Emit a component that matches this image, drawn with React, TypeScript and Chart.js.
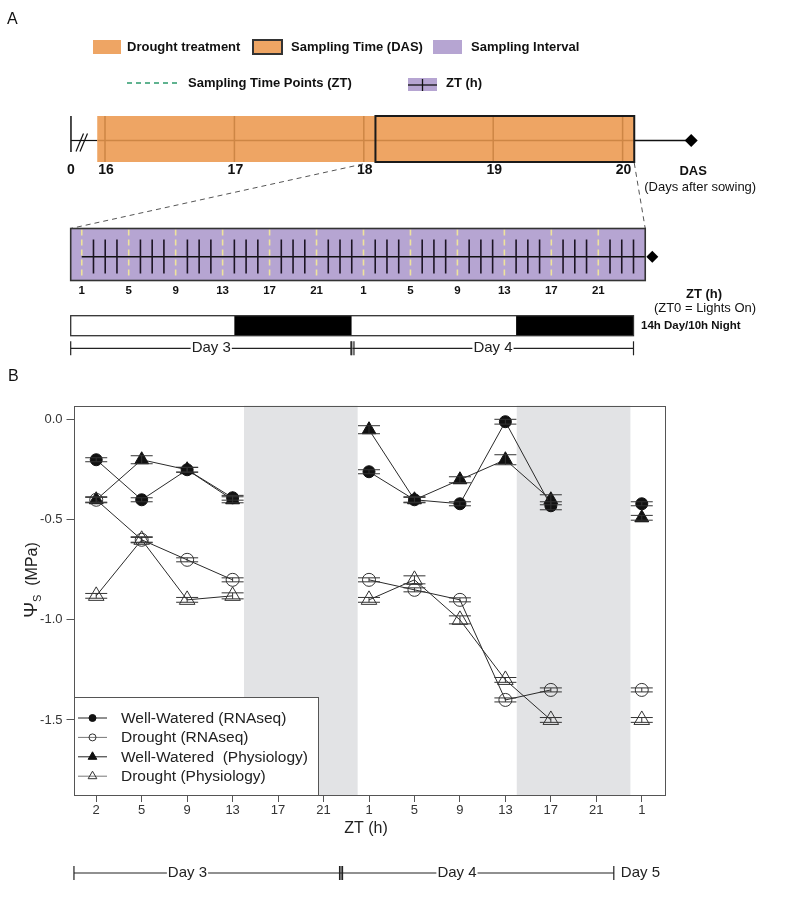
import React, { useEffect, useRef } from 'react';
import { Chart, registerables } from 'chart.js';

Chart.register(...registerables);

const FONT = '"Liberation Sans", Arial, Helvetica, sans-serif';

// ---------------- Panel A (schematic) ----------------
const dasTicks = [16, 17, 18, 19, 20];
const dasTickLabels = ['16', '17', '18', '19', '20'];
const dasBreakValue = 15.737;
const droughtStartDas = 15.94;
const droughtEndDas = 20.09;
const samplingStartDas = 18.09;
const samplingEndDas = 20.09;
const dasArrowDas = 20.53;
const sampleHours = [1, 5, 9, 13, 17, 21, 25, 29, 33, 37, 41, 45];
const sampleHourLabels = ['1', '5', '9', '13', '17', '21', '1', '5', '9', '13', '17', '21'];
const hourTicks = [2, 3, 4, 6, 7, 8, 10, 11, 12, 14, 15, 16, 18, 19, 20, 22, 23, 24, 26, 27, 28, 30, 31, 32, 34, 35, 36, 38, 39, 40, 42, 43, 44, 46, 47, 48];
const intervalStartHour = 0;
const intervalEndHour = 49;
const ztArrowHour = 49.6;
const lightStart = [0, 14, 24, 38];
const lightEnd = [14, 24, 38, 48];
const lightIsNight = [false, true, false, true];
const dayLabelsA = ['Day 3', 'Day 4'];
const dayStartA = [0, 24];
const dayEndA = [24, 48];

// ---------------- Panel B (water potential) ----------------
const ztCategories = ['2', '5', '9', '13', '17', '21', '1', '5', '9', '13', '17', '21', '1'];
const yTickValues = [0, -0.5, -1.0, -1.5];
const wellWateredRNAseq = [-0.2, -0.4, -0.25, -0.39, null, null, -0.26, -0.4, -0.42, -0.01, -0.43, null, -0.42];
const droughtRNAseq = [-0.4, -0.6, -0.7, -0.8, null, null, -0.8, -0.85, -0.9, -1.4, -1.35, null, -1.35];
const wellWateredPhys = [-0.4, -0.2, -0.25, -0.4, null, null, -0.05, -0.4, -0.3, -0.2, -0.4, null, -0.49];
const droughtPhys = [-0.88, -0.6, -0.9, -0.88, null, null, -0.9, -0.8, -1.0, -1.3, -1.5, null, -1.5];
const errWellWateredRNAseq = [0.01, 0.01, 0.012, 0.012, null, null, 0.01, 0.012, 0.01, 0.012, 0.02, null, 0.01];
const errDroughtRNAseq = [0.012, 0.012, 0.01, 0.01, null, null, 0.01, 0.01, 0.01, 0.01, 0.01, null, 0.01];
const errWellWateredPhys = [0.015, 0.02, 0.012, 0.015, null, null, 0.02, 0.015, 0.015, 0.025, 0.025, null, 0.012];
const errDroughtPhys = [0.012, 0.015, 0.012, 0.015, null, null, 0.012, 0.02, 0.02, 0.012, 0.012, null, 0.012];
const nightBandStart = [3.25, 9.25];
const nightBandEnd = [5.75, 11.75];
const dayLabelsB = ['Day 3', 'Day 4'];
const dayBracketB = [-0.49, 5.385, 11.385];
const seriesNames = ['Well-Watered (RNAseq)', 'Drought (RNAseq)', 'Well-Watered  (Physiology)', 'Drought (Physiology)'];

const ORANGE = '#eea564';
const ORANGE_LINE = '#cd8645';
const PURPLE = '#b6a5d2';
const BAND = '#e2e3e5';

function txt(ctx: CanvasRenderingContext2D, s: string, x: number, y: number, font: string, align: CanvasTextAlign = 'left', color = '#111') {
  ctx.font = font;
  ctx.fillStyle = color;
  ctx.textAlign = align;
  ctx.textBaseline = 'middle';
  ctx.fillText(s, x, y);
}

function line(ctx: CanvasRenderingContext2D, x1: number, y1: number, x2: number, y2: number, color = '#111', w = 1, dash: number[] = []) {
  ctx.save();
  ctx.strokeStyle = color;
  ctx.lineWidth = w;
  ctx.setLineDash(dash);
  ctx.beginPath();
  ctx.moveTo(x1, y1);
  ctx.lineTo(x2, y2);
  ctx.stroke();
  ctx.restore();
}

function diamond(ctx: CanvasRenderingContext2D, x: number, y: number, r: number) {
  ctx.fillStyle = '#000';
  ctx.beginPath();
  ctx.moveTo(x, y - r);
  ctx.lineTo(x + r, y);
  ctx.lineTo(x, y + r);
  ctx.lineTo(x - r, y);
  ctx.closePath();
  ctx.fill();
}

function marker(ctx: CanvasRenderingContext2D, kind: string, filled: boolean, x: number, y: number, r: number) {
  ctx.beginPath();
  if (kind === 'circle') {
    ctx.arc(x, y, r, 0, Math.PI * 2);
  } else {
    ctx.moveTo(x, y - r);
    ctx.lineTo(x + r * 0.866, y + r * 0.5);
    ctx.lineTo(x - r * 0.866, y + r * 0.5);
    ctx.closePath();
  }
  if (filled) {
    ctx.fillStyle = '#111';
    ctx.fill();
  }
  ctx.strokeStyle = filled ? '#111' : '#333';
  ctx.lineWidth = 1;
  ctx.stroke();
}

function bracket(ctx: CanvasRenderingContext2D, x1: number, x2: number, y: number, label: string, cx: number, font: string, startDouble: boolean) {
  line(ctx, x1, y, x2, y, '#222', 1.2);
  if (startDouble) {
    line(ctx, x1 - 1.5, y - 7, x1 - 1.5, y + 7, '#222', 1.2);
    line(ctx, x1 + 1.5, y - 7, x1 + 1.5, y + 7, '#222', 1.2);
  } else {
    line(ctx, x1, y - 7, x1, y + 7, '#222', 1.2);
  }
  line(ctx, x2, y - 7, x2, y + 7, '#222', 1.2);
  ctx.font = font;
  const w = ctx.measureText(label).width;
  ctx.fillStyle = '#fff';
  ctx.fillRect(cx - w / 2 - 1, y - 9, w + 2, 18);
  txt(ctx, label, cx, y, font, 'center', '#222');
}

const panelAPlugin = {
  id: 'panelA',
  afterDraw(chart: any) {
    const ctx: CanvasRenderingContext2D = chart.ctx;
    const hx = (h: number) => chart.scales.x.getPixelForValue(h);
    const dx = (d: number) => chart.scales.das.getPixelForValue(d);
    const bold13 = `bold 13px ${FONT}`;
    ctx.save();

    txt(ctx, 'A', 7, 20, `16px ${FONT}`);

    // legend row 1
    ctx.fillStyle = ORANGE;
    ctx.fillRect(93, 40, 28, 14);
    txt(ctx, 'Drought treatment', 127, 47.5, bold13);
    ctx.fillStyle = ORANGE;
    ctx.fillRect(253, 40, 29, 14);
    ctx.strokeStyle = '#333';
    ctx.lineWidth = 2;
    ctx.strokeRect(253, 40, 29, 14);
    txt(ctx, 'Sampling Time (DAS)', 291, 47.5, bold13);
    ctx.fillStyle = PURPLE;
    ctx.fillRect(433, 40, 29, 14);
    txt(ctx, 'Sampling Interval', 471, 47.5, bold13);

    // legend row 2
    line(ctx, 127, 83, 178, 83, '#2c9a6c', 1.5, [5, 4]);
    txt(ctx, 'Sampling Time Points (ZT)', 188, 83.5, bold13);
    ctx.fillStyle = PURPLE;
    ctx.fillRect(408, 78, 29, 13);
    line(ctx, 408, 85, 437, 85, '#111', 1.3);
    line(ctx, 422.5, 79, 422.5, 91, '#111', 1.3);
    txt(ctx, 'ZT (h)', 446, 83.5, bold13);

    // DAS timeline
    const top = 116, bot = 162, mid = 140.5;
    const x0 = dx(dasBreakValue);
    line(ctx, x0, top, x0, 152, '#111', 1.5);
    line(ctx, x0, mid, dx(droughtStartDas), mid, '#111', 1.2);
    line(ctx, 76, 151.5, 83.5, 133.5, '#111', 1.2);
    line(ctx, 80, 151.5, 87.5, 133.5, '#111', 1.2);

    const bx1 = dx(droughtStartDas), bx2 = dx(droughtEndDas);
    ctx.fillStyle = ORANGE;
    ctx.fillRect(bx1, top, bx2 - bx1, bot - top);
    line(ctx, bx1, mid, bx2, mid, ORANGE_LINE, 1.5);
    dasTicks.forEach((d) => line(ctx, dx(d), top, dx(d), bot, ORANGE_LINE, 1.5));
    const sx1 = dx(samplingStartDas), sx2 = dx(samplingEndDas);
    ctx.strokeStyle = '#1a1a1a';
    ctx.lineWidth = 2;
    ctx.strokeRect(sx1, top, sx2 - sx1, bot - top);
    line(ctx, sx2, mid, dx(dasArrowDas), mid, '#111', 1.3);
    diamond(ctx, dx(dasArrowDas), mid, 6.5);

    txt(ctx, '0', x0, 170.5, `bold 14px ${FONT}`, 'center');
    dasTicks.forEach((d, i) => txt(ctx, dasTickLabels[i], dx(d) + 1, 170.5, `bold 14px ${FONT}`, 'center'));
    txt(ctx, 'DAS', dx(dasArrowDas) + 2, 171, bold13, 'center');
    txt(ctx, '(Days after sowing)', dx(dasArrowDas) + 9, 187.5, `13px ${FONT}`, 'center');

    // ZT interval box
    const zTop = 228.5, zBot = 280.5, zMid = 256.7;
    const zx1 = hx(intervalStartHour) + 0.7, zx2 = hx(intervalEndHour);
    line(ctx, 363, 164, zx1, zTop, '#555', 1, [5, 4]);
    line(ctx, sx2, bot + 1, zx2, zTop, '#555', 1, [5, 4]);
    ctx.fillStyle = PURPLE;
    ctx.fillRect(zx1, zTop, zx2 - zx1, zBot - zTop);
    sampleHours.forEach((h) => line(ctx, hx(h), zTop + 1, hx(h), zBot - 1, '#eee39c', 1.6, [6, 4]));
    line(ctx, hx(sampleHours[0]), zMid, zx2, zMid, '#111', 1.5);
    hourTicks.forEach((h) => line(ctx, hx(h), 239.5, hx(h), 273.5, '#1c1424', 1.6));
    ctx.strokeStyle = '#333';
    ctx.lineWidth = 1.6;
    ctx.strokeRect(zx1, zTop, zx2 - zx1, zBot - zTop);
    diamond(ctx, hx(ztArrowHour), zMid, 6);
    sampleHours.forEach((h, i) => txt(ctx, sampleHourLabels[i], hx(h), 290.5, `bold 11.5px ${FONT}`, 'center'));
    txt(ctx, 'ZT (h)', 704, 294, `bold 13px ${FONT}`, 'center');
    txt(ctx, '(ZT0 = Lights On)', 705, 308, `13px ${FONT}`, 'center');

    // Light / dark bar
    const lTop = 315.7, lBot = 335.7;
    lightStart.forEach((s, i) => {
      ctx.fillStyle = lightIsNight[i] ? '#000' : '#fff';
      ctx.fillRect(hx(s), lTop, hx(lightEnd[i]) - hx(s), lBot - lTop);
    });
    ctx.strokeStyle = '#333';
    ctx.lineWidth = 1.3;
    ctx.strokeRect(hx(lightStart[0]) + 0.7, lTop, hx(lightEnd[lightEnd.length - 1]) - hx(lightStart[0]) - 0.7, lBot - lTop);
    txt(ctx, '14h Day/10h Night', 641, 326, `bold 11.5px ${FONT}`);

    // Day brackets
    dayLabelsA.forEach((lab, i) => {
      const a = hx(dayStartA[i]) + 0.7, b = hx(dayEndA[i]);
      bracket(ctx, a, b, 348.3, lab, (a + b) / 2, `15px ${FONT}`, i > 0);
    });
    ctx.restore();
  },
};

const panelBPlugin = {
  id: 'panelB',
  beforeDatasetsDraw(chart: any) {
    const ctx: CanvasRenderingContext2D = chart.ctx;
    const xs = chart.scales.x;
    const a = chart.chartArea;
    ctx.save();
    ctx.fillStyle = BAND;
    nightBandStart.forEach((s, i) => {
      const x1 = xs.getPixelForValue(s), x2 = xs.getPixelForValue(nightBandEnd[i]);
      ctx.fillRect(x1, a.top, x2 - x1, a.bottom - a.top);
    });
    ctx.restore();
  },
  afterDatasetsDraw(chart: any) {
    const ctx: CanvasRenderingContext2D = chart.ctx;
    const ys = chart.scales.y;
    const errs = [errWellWateredRNAseq, errDroughtRNAseq, errWellWateredPhys, errDroughtPhys];
    ctx.save();
    ctx.strokeStyle = '#333';
    ctx.lineWidth = 1;
    chart.data.datasets.forEach((ds: any, i: number) => {
      const meta = chart.getDatasetMeta(i);
      ds.data.forEach((v: number | null, j: number) => {
        const e = errs[i][j];
        if (v === null || e === null) return;
        const x = meta.data[j].x;
        const y1 = ys.getPixelForValue(v + e), y2 = ys.getPixelForValue(v - e);
        ctx.beginPath();
        ctx.moveTo(x, y1); ctx.lineTo(x, y2);
        ctx.moveTo(x - 11, y1); ctx.lineTo(x + 11, y1);
        ctx.moveTo(x - 11, y2); ctx.lineTo(x + 11, y2);
        ctx.stroke();
      });
    });
    ctx.restore();
  },
  afterDraw(chart: any) {
    const ctx: CanvasRenderingContext2D = chart.ctx;
    const a = chart.chartArea;
    const xs = chart.scales.x;
    ctx.save();
    // frame
    ctx.strokeStyle = '#555';
    ctx.lineWidth = 1;
    ctx.strokeRect(Math.round(a.left) + 0.5, Math.round(a.top) + 0.5, Math.round(a.right - a.left), Math.round(a.bottom - a.top));

    // legend
    const lx1 = Math.round(a.left) + 0.5, lx2 = 318.5, ly1 = 332.5, ly2 = Math.round(a.bottom) + 0.5;
    ctx.fillStyle = '#fff';
    ctx.fillRect(lx1, ly1, lx2 - lx1, ly2 - ly1);
    ctx.strokeStyle = '#555';
    ctx.strokeRect(lx1, ly1, lx2 - lx1, ly2 - ly1);
    const kinds = ['circle', 'circle', 'triangle', 'triangle'];
    const fills = [true, false, true, false];
    seriesNames.forEach((n, k) => {
      const y = ly1 + 20.5 + k * 19.4;
      line(ctx, 78, y, 107, y, fills[k] ? '#222' : '#777', 1);
      marker(ctx, kinds[k], fills[k], 92.5, y, kinds[k] === 'circle' ? 3.5 : 5);
      txt(ctx, n, 121, y + 0.5, `15.5px ${FONT}`, 'left', '#222');
    });

    // panel label
    txt(ctx, 'B', 8, 12, `16px ${FONT}`);

    // y title
    ctx.save();
    ctx.translate(31, 215);
    ctx.rotate(-Math.PI / 2);
    const f1 = `19px ${FONT}`, f2 = `11px ${FONT}`, f3 = `16px ${FONT}`;
    ctx.font = f1; const w1 = ctx.measureText('Ψ').width;
    ctx.font = f2; const w2 = ctx.measureText('S').width;
    ctx.font = f3; const w3 = ctx.measureText('  (MPa)').width;
    const st = -(w1 + w2 + w3) / 2;
    ctx.fillStyle = '#222';
    ctx.textAlign = 'left';
    ctx.textBaseline = 'alphabetic';
    ctx.font = f1; ctx.fillText('Ψ', st, 6);
    ctx.font = f2; ctx.fillText('S', st + w1, 10);
    ctx.font = f3; ctx.fillText('  (MPa)', st + w1 + w2, 6);
    ctx.restore();

    // x title
    txt(ctx, 'ZT (h)', 366, 464, `16px ${FONT}`, 'center', '#222');

    // day brackets
    const px = dayBracketB.map((v) => xs.getPixelForValue(v));
    dayLabelsB.forEach((lab, i) => {
      const x1 = px[i], x2 = px[i + 1];
      bracket(ctx, x1, x2, 508, lab, x1 + 0.425 * (x2 - x1), `15px ${FONT}`, i > 0);
    });
    txt(ctx, 'Day 5', px[2] + 7, 508, `15px ${FONT}`, 'left', '#222');
    ctx.restore();
  },
};

function PanelA() {
  const ref = useRef<HTMLCanvasElement | null>(null);
  useEffect(() => {
    if (!ref.current) return;
    const chart = new Chart(ref.current, {
      type: 'scatter',
      data: { datasets: [] },
      options: {
        responsive: false,
        animation: false,
        events: [],
        layout: { padding: { left: 70, right: 787 - 633.5, top: 0, bottom: 0 } },
        plugins: { legend: { display: false }, tooltip: { enabled: false } },
        scales: {
          x: { type: 'linear', min: 0, max: 48, display: false },
          das: { type: 'linear', axis: 'x', position: 'bottom', min: 15.7295, max: 20.0842, display: false },
          y: { type: 'linear', min: 0, max: 365, reverse: true, display: false },
        },
      } as any,
      plugins: [panelAPlugin],
    });
    return () => chart.destroy();
  }, []);
  return <canvas ref={ref} width={787} height={365} style={{ display: 'block', position: 'absolute', left: 0, top: 0 }} />;
}

function PanelB() {
  const ref = useRef<HTMLCanvasElement | null>(null);
  useEffect(() => {
    if (!ref.current) return;
    const common = { borderColor: '#2a2a2a', borderWidth: 1, spanGaps: false, fill: false, tension: 0, pointBorderWidth: 1 };
    const chart = new Chart(ref.current, {
      type: 'line',
      data: {
        labels: ztCategories,
        datasets: [
          { ...common, label: seriesNames[0], data: wellWateredRNAseq, pointStyle: 'circle', pointRadius: 6, pointBackgroundColor: '#111', pointBorderColor: '#111' },
          { ...common, label: seriesNames[1], data: droughtRNAseq, pointStyle: 'circle', pointRadius: 6.5, pointBackgroundColor: 'rgba(0,0,0,0)', pointBorderColor: '#333' },
          { ...common, label: seriesNames[2], data: wellWateredPhys, pointStyle: 'triangle', pointRadius: 8, pointBackgroundColor: '#111', pointBorderColor: '#111' },
          { ...common, label: seriesNames[3], data: droughtPhys, pointStyle: 'triangle', pointRadius: 9, pointBackgroundColor: 'rgba(0,0,0,0)', pointBorderColor: '#333' },
        ],
      },
      options: {
        responsive: false,
        animation: false,
        events: [],
        layout: { padding: { left: 0, right: 787 - 664.5, top: 40.7, bottom: 0 } },
        plugins: { legend: { display: false }, tooltip: { enabled: false } },
        scales: {
          x: {
            type: 'category',
            offset: true,
            border: { display: false },
            grid: { display: true, drawOnChartArea: false, drawTicks: true, tickLength: 7, color: '#555', offset: false },
            ticks: { font: { family: FONT, size: 13 }, color: '#333', padding: 1, maxRotation: 0, autoSkip: false },
            afterFit: (s: any) => { s.height = 107; },
          },
          y: {
            type: 'linear',
            min: -1.875,
            max: 0.07,
            border: { display: false },
            grid: { display: true, drawOnChartArea: false, drawTicks: true, tickLength: 7, color: '#555' },
            ticks: { font: { family: FONT, size: 13 }, color: '#333', padding: 4, includeBounds: false, callback: (v: any) => Number(v).toFixed(1) },
            afterBuildTicks: (s: any) => { s.ticks = yTickValues.map((v) => ({ value: v })); },
            afterFit: (s: any) => { s.width = 73.5; },
          },
        },
      } as any,
      plugins: [panelBPlugin],
    });
    return () => chart.destroy();
  }, []);
  return <canvas ref={ref} width={787} height={537} style={{ display: 'block', position: 'absolute', left: 0, top: 365 }} />;
}

export default function App() {
  return (
    <div style={{ position: 'absolute', left: 0, top: 0, width: 787, height: 902, background: '#fff' }}>
      <PanelA />
      <PanelB />
    </div>
  );
}
